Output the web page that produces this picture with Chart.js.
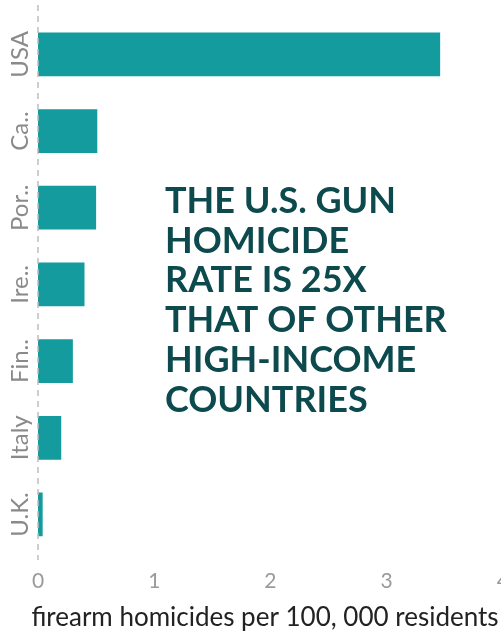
<!DOCTYPE html>
<html>
<head>
<meta charset="utf-8">
<script src="https://cdn.jsdelivr.net/npm/chart.js@4.4.1/dist/chart.umd.min.js"></script>
<style>
  html, body { margin: 0; padding: 0; background: #fff; overflow: hidden; }
  #wrap { width: 517px; height: 634px; position: relative; }
</style>
</head>
<body>
<div id="wrap"><canvas id="chart"></canvas></div>
<script>
// Firearm homicide rates, high-income countries

const countries = ['USA', 'Canada', 'Portugal', 'Ireland', 'Finland', 'Italy', 'U.K.'];
const tickLabels = ['USA', 'Ca..', 'Por..', 'Ire..', 'Fin..', 'Italy', 'U.K.'];
const rates = [3.46, 0.51, 0.5, 0.4, 0.3, 0.2, 0.04];
const xTicks = [0, 1, 2, 3, 4];
const xTitle = 'firearm homicides per 100, 000 residents';
const noteLines = [
    'THE U.S. GUN',
    'HOMICIDE',
    'RATE IS 25X',
    'THAT OF OTHER',
    'HIGH-INCOME',
    'COUNTRIES'
];

const BAR_COLOR = '#139b9d';
const NOTE_COLOR = '#0c4a4e';
const FONT = "Lato, 'Open Sans', sans-serif";

// rotated country labels, dashed zero line, axis title and the big note
const decorPlugin = {
    id: 'decor',
    afterDraw(chart) {
        const ctx = chart.ctx;
        const x = chart.scales.x;
        const y = chart.scales.y;

        const x0 = x.getPixelForValue(0);
        ctx.save();
        ctx.strokeStyle = '#bdbdbd';
        ctx.lineWidth = 1.5;
        ctx.setLineDash([6, 5]);
        ctx.beginPath();
        ctx.moveTo(x0, 5);
        ctx.lineTo(x0, 560);
        ctx.stroke();
        ctx.restore();

        ctx.save();
        ctx.fillStyle = '#8a8a8a';
        ctx.font = '24px ' + FONT;
        ctx.textAlign = 'center';
        ctx.textBaseline = 'alphabetic';
        tickLabels.forEach((lab, i) => {
            const py = y.getPixelForValue(i);
            ctx.save();
            ctx.translate(28, py);
            ctx.rotate(-Math.PI / 2);
            ctx.fillText(lab, 0, 0);
            ctx.restore();
        });
        ctx.restore();

        ctx.save();
        ctx.fillStyle = '#222';
        ctx.font = '26px ' + FONT;
        ctx.textAlign = 'center';
        ctx.textBaseline = 'alphabetic';
        ctx.fillText(xTitle, 265, 626);
        ctx.restore();

        ctx.save();
        ctx.fillStyle = NOTE_COLOR;
        ctx.font = 'bold 36px ' + FONT;
        ctx.textAlign = 'left';
        ctx.textBaseline = 'alphabetic';
        noteLines.forEach((line, i) => {
            ctx.fillText(line, 165, 213 + i * 39.7);
        });
        ctx.restore();
    }
};

new Chart(document.getElementById('chart'), {
    type: 'bar',
    data: {
        labels: countries,
        datasets: [{
            data: rates,
            backgroundColor: BAR_COLOR,
            borderWidth: 0,
            barPercentage: 0.57,
            categoryPercentage: 1
        }]
    },
    options: {
        indexAxis: 'y',
        responsive: true,
        maintainAspectRatio: false,
        animation: false,
        layout: { padding: { left: 30, top: 16, bottom: 32, right: 0 } },
        plugins: {
            legend: { display: false },
            tooltip: { enabled: false }
        },
        scales: {
            x: {
                min: 0,
                max: 4,
                grid: { display: false },
                border: { display: false },
                afterBuildTicks(scale) {
                    scale.ticks = xTicks.map(v => ({ value: v }));
                },
                ticks: {
                    color: '#9a9a9a',
                    padding: 8,
                    font: { family: FONT, size: 21 }
                }
            },
            y: {
                grid: { display: false },
                border: { display: false },
                ticks: { display: false }
            }
        }
    },
    plugins: [decorPlugin]
});
</script>
</body>
</html>
